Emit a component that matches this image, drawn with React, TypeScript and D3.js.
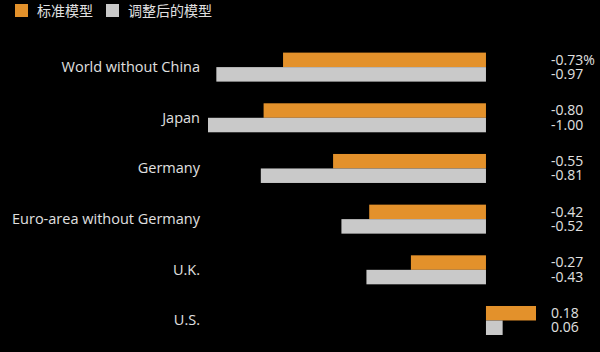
import React from "react";
import * as d3 from "d3";

const categories = ["World without China", "Japan", "Germany", "Euro-area without Germany", "U.K.", "U.S."];
const standardModel = [-0.73, -0.8, -0.55, -0.42, -0.27, 0.18];
const adjustedModel = [-0.97, -1.0, -0.81, -0.52, -0.43, 0.06];
const standardLabels = ["-0.73%", "-0.80", "-0.55", "-0.42", "-0.27", "0.18"];
const adjustedLabels = ["-0.97", "-1.00", "-0.81", "-0.52", "-0.43", "0.06"];
const seriesNames = ["标准模型", "调整后的模型"];

const W = 600;
const H = 352;
const ORANGE = "#E3912B";
const GREY = "#C9C9C9";
const TEXT = "#E0E0E0";
const FONT = "'Open Sans', 'Noto Sans CJK SC', sans-serif";

export default function App() {
  const x = d3.scaleLinear().domain([-1, 0.18]).range([208, 536]);
  const y = d3.scaleBand<string>().domain(categories).range([44, 344]).paddingInner(0.42).paddingOuter(0.17);
  const barH = 14.5;

  return (
    <svg width={W} height={H} style={{ position: "absolute", left: 0, top: 0, background: "#000" }} fontFamily={FONT}>
      <rect x={0} y={0} width={W} height={H} fill="#000" />
      {/* legend */}
      <rect x={15} y={4} width={13} height={13} fill={ORANGE} />
      <text x={37} y={16} fill={TEXT} fontSize={14}>{seriesNames[0]}</text>
      <rect x={106} y={4} width={13} height={13} fill={GREY} />
      <text x={128} y={16} fill={TEXT} fontSize={14}>{seriesNames[1]}</text>
      {categories.map((c, i) => {
        const y0 = (y(c) as number);
        const s = standardModel[i];
        const a = adjustedModel[i];
        return (
          <g key={c}>
            <rect x={Math.min(x(0), x(s))} y={y0} width={Math.abs(x(s) - x(0))} height={barH} fill={ORANGE} />
            <rect x={Math.min(x(0), x(a))} y={y0 + barH} width={Math.abs(x(a) - x(0))} height={barH} fill={GREY} />
            <text x={200} y={y0 + barH + 5} textAnchor="end" fill={TEXT} fontSize={14.5}>{c}</text>
            <text x={551} y={y0 + 12} fill={TEXT} fontSize={14}>{standardLabels[i]}</text>
            <text x={551} y={y0 + 26.5} fill={TEXT} fontSize={14}>{adjustedLabels[i]}</text>
          </g>
        );
      })}
    </svg>
  );
}
